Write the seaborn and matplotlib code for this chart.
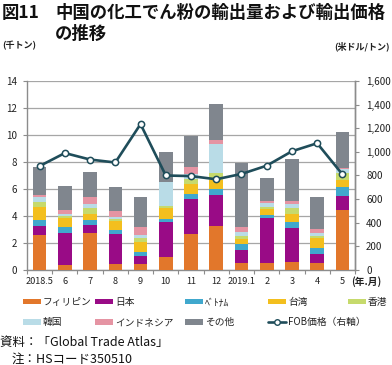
"""中国の化工でん粉の輸出量および輸出価格の推移 (図11)."""

import matplotlib

matplotlib.use("Agg")
import matplotlib.pyplot as plt
import numpy as np
import pandas as pd
import seaborn as sns
from matplotlib.lines import Line2D
from matplotlib.patches import Patch

# ---------------------------------------------------------------------------
# Data (千トン / 米ドル・トン)
# ---------------------------------------------------------------------------
months = ["2018.5", "6", "7", "8", "9", "10", "11", "12", "2019.1", "2", "3", "4", "5"]

philippines = [2.59, 0.37, 2.72, 0.44, 0.44, 0.99, 2.67, 3.26, 0.54, 0.54, 0.59, 0.54, 4.44]
japan = [0.69, 2.40, 0.61, 2.23, 0.62, 2.54, 2.60, 2.30, 0.94, 3.34, 2.55, 0.65, 1.04]
vietnam = [0.42, 0.39, 0.37, 0.29, 0.30, 0.25, 0.35, 0.43, 0.42, 0.19, 0.44, 0.46, 0.64]
taiwan = [0.94, 0.67, 0.45, 0.67, 0.74, 0.81, 0.76, 0.70, 0.40, 0.42, 0.57, 0.70, 0.55]
hongkong = [0.40, 0.15, 0.42, 0.17, 0.30, 0.14, 0.36, 0.52, 0.24, 0.20, 0.42, 0.19, 0.49]
korea = [0.39, 0.17, 0.29, 0.15, 0.22, 1.77, 0.40, 2.15, 0.30, 0.25, 0.29, 0.18, 0.32]
indonesia = [0.10, 0.29, 0.52, 0.42, 0.57, 0.05, 0.48, 0.30, 0.37, 0.17, 0.25, 0.34, 0.05]
others = [2.07, 1.81, 1.90, 1.75, 2.22, 2.22, 2.30, 2.67, 4.74, 1.68, 3.11, 2.37, 2.72]

fob_price = [880, 990, 935, 910, 1235, 800, 795, 768, 813, 883, 1005, 1073, 810]

series_names = ["フィリピン", "日本", "ﾍﾞﾄﾅﾑ", "台湾", "香港", "韓国", "インドネシア", "その他"]
series_values = [philippines, japan, vietnam, taiwan, hongkong, korea, indonesia, others]
series_colors = ["#E2772B", "#990B86", "#40A8CD", "#F3BF1E", "#C6DA6C",
                 "#B9DCE7", "#E594A3", "#80868E"]
line_color = "#1F4D5A"

# ---------------------------------------------------------------------------
# Style
# ---------------------------------------------------------------------------
sns.set_theme(style="white")
plt.rcParams["font.family"] = ["Noto Sans CJK JP", "DejaVu Sans"]
text_color = "#222222"

fig = plt.figure(figsize=(3.92, 3.65), dpi=100)
ax = fig.add_axes([0.0689, 0.2603, 0.8367, 0.5178])

# stacked bars
df = pd.DataFrame(dict(zip(series_names, series_values)), index=months)
bottom = np.zeros(len(months))
for name, color in zip(series_names, series_colors):
    sns.barplot(x=months, y=df[name].values, bottom=bottom, color=color,
                width=0.54, ax=ax, zorder=3, linewidth=0, saturation=1)
    bottom += df[name].values

ax.set_ylim(0, 14)
ax.set_xlim(-0.5, len(months) - 0.5)
ax.set_yticks(np.arange(0, 15, 2))
ax.yaxis.grid(True, color="#A6A6A6", linewidth=0.9, zorder=0)
ax.set_axisbelow(True)
ax.tick_params(axis="y", labelsize=7, colors=text_color, length=3, width=0.8,
               pad=4, color="#8C8C8C", direction="out", left=True)
ax.set_xticks(np.arange(len(months)))
ax.set_xticklabels(months)
ax.set_xticks(np.arange(len(months) + 1) - 0.5, minor=True)
ax.tick_params(axis="x", which="major", length=0, labelsize=6.6, colors=text_color, pad=5)
ax.tick_params(axis="x", which="minor", length=3, width=0.8, color="#8C8C8C",
               direction="out", bottom=True)
for side in ["left", "bottom", "right"]:
    ax.spines[side].set_color("#8C8C8C")
    ax.spines[side].set_linewidth(1.0)
ax.spines["top"].set_visible(False)
ax.set_xlabel("")
ax.set_ylabel("")

# FOB price on the right axis
ax2 = ax.twinx()
sns.lineplot(x=np.arange(len(months)), y=fob_price, ax=ax2, color=line_color,
             linewidth=1.9, marker="o", markersize=4.5, markerfacecolor="white",
             markeredgecolor=line_color, markeredgewidth=1.1, zorder=5)
ax2.set_ylim(0, 1600)
ax2.set_yticks(np.arange(0, 1601, 200))
ax2.set_yticklabels([f"{v:,}" for v in range(0, 1601, 200)])
ax2.tick_params(axis="y", labelsize=7, colors=text_color, length=3, width=0.8,
                pad=5, color="#8C8C8C", direction="out", right=True)
ax2.grid(False)
for side in ["left", "bottom", "top"]:
    ax2.spines[side].set_visible(False)
ax2.spines["right"].set_color("#8C8C8C")
ax2.spines["right"].set_linewidth(1.0)
ax2.set_ylabel("")
ax2.set_xlabel("")

# ---------------------------------------------------------------------------
# Texts
# ---------------------------------------------------------------------------
fig.text(0.005, 1 - 13 / 365, "図11", fontsize=12.5, fontweight="bold",
         va="center", ha="left", color="#111111")
fig.text(55 / 392, 1 - 13 / 365, "中国の化工でん粉の輸出量および輸出価格",
         fontsize=12.5, fontweight="bold", va="center", ha="left", color="#111111")
fig.text(55 / 392, 1 - 34 / 365, "の推移", fontsize=12.5, fontweight="bold",
         va="center", ha="left", color="#111111")

fig.text(2 / 392, 1 - 46 / 365, "(千トン)", fontsize=6.5, fontweight="bold",
         va="center", ha="left", color=text_color)
fig.text(390 / 392, 1 - 46 / 365, "(米ドル/トン)", fontsize=6.5, fontweight="bold",
         va="center", ha="right", color=text_color)
fig.text(366 / 392, 1 - 282 / 365, "(年.月)", fontsize=7, fontweight="bold",
         va="center", ha="center", color=text_color)

# legend: one small legend per column, placed like the reference
patches = [Patch(facecolor=c, edgecolor="none", label=n)
           for n, c in zip(series_names, series_colors)]
fob_handle = Line2D([], [], color=line_color, linewidth=1.9, marker="o", markersize=4,
                    markerfacecolor="white", markeredgecolor=line_color,
                    label="FOB価格（右軸）")
columns = [
    (23, [patches[0], patches[5]]),
    (95, [patches[1], patches[6]]),
    (185, [patches[2], patches[7]]),
    (268, [patches[3], fob_handle]),
    (348, [patches[4]]),
]
for x_px, handles in columns:
    leg = fig.legend(handles=handles, loc="upper left",
                     bbox_to_anchor=(x_px / 392, 1 - 297 / 365),
                     frameon=False, fontsize=7, handlelength=1.9, handleheight=0.5,
                     handletextpad=0.15, labelspacing=1.05, borderpad=0,
                     borderaxespad=0)
    for t in leg.get_texts():
        t.set_color(text_color)

fig.text(0.0, 1 - 342 / 365, "資料：「Global Trade Atlas」", fontsize=9,
         va="center", ha="left", color="#111111")
fig.text(12 / 392, 1 - 359 / 365, "注：HSコード350510", fontsize=9,
         va="center", ha="left", color="#111111")

fig.savefig("out.png", dpi=100)
plt.close(fig)
